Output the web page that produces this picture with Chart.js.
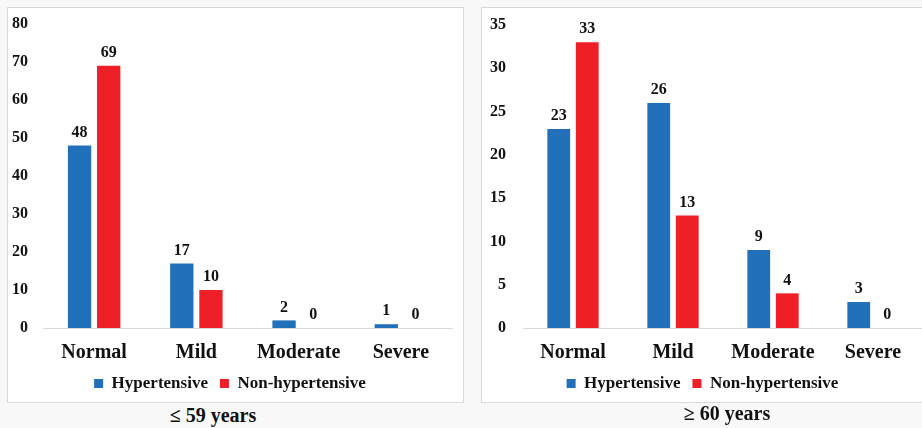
<!DOCTYPE html>
<html>
<head>
<meta charset="utf-8">
<script src="https://cdn.jsdelivr.net/npm/chart.js@4"></script>
<style>
  body { margin: 0; width: 922px; height: 428px; background: #f8f8f8; position: relative; overflow: hidden; }
  .panel { position: absolute; top: 7px; height: 396px; background: #fff; border: 1px solid #d9d9d9; box-sizing: border-box; overflow: hidden; }
  .panel canvas { position: absolute; left: 0; top: 0; }
  .caption { position: absolute; font-family: "Liberation Serif", serif; font-weight: bold; font-size: 20px; color: #111; white-space: nowrap; transform: translate(-50%, -50%); }
</style>
</head>
<body>
<div class="panel" style="left:7px; width:457px;"><canvas id="chartYoung"></canvas></div>
<div class="panel" style="left:481px; width:446px;"><canvas id="chartOld"></canvas></div>
<div class="caption" style="left:213px; top:415px;">≤ 59 years</div>
<div class="caption" style="left:727px; top:413px;">≥ 60 years</div>
<script>
// categories and series
var severityLabels = ["Normal", "Mild", "Moderate", "Severe"];
var seriesNames = ["Hypertensive", "Non-hypertensive"];

// ≤ 59 years
var youngHypertensive = [48, 17, 2, 1];
var youngNonHypertensive = [69, 10, 0, 0];
var youngTicks = [0, 10, 20, 30, 40, 50, 60, 70, 80];

// ≥ 60 years
var oldHypertensive = [23, 26, 9, 3];
var oldNonHypertensive = [33, 13, 4, 0];
var oldTicks = [0, 5, 10, 15, 20, 25, 30, 35];

var blue = "#2270b9";
var red = "#ee1f26";
var serif = "'Liberation Serif', 'Times New Roman', serif";

// draw the value on top of each bar
var valueLabels = {
    id: "valueLabels",
    afterDatasetsDraw: function(chart) {
        var ctx = chart.ctx;
        ctx.save();
        ctx.font = "bold 16px " + serif;
        ctx.fillStyle = "#111";
        ctx.textAlign = "center";
        ctx.textBaseline = "bottom";
        chart.data.datasets.forEach(function(ds, i) {
            chart.getDatasetMeta(i).data.forEach(function(bar, j) {
                ctx.fillText(ds.data[j], bar.x, bar.y - 5);
            });
        });
        ctx.restore();
    }
};

function drawPanel(id, w, h, hyper, nonHyper, ticks, axisWidth, tickPad, padRight, topGap) {
    var canvas = document.getElementById(id);
    canvas.width = w;
    canvas.height = h;
    canvas.style.width = w + "px";
    canvas.style.height = h + "px";

    return new Chart(canvas, {
        type: "bar",
        data: {
            labels: severityLabels,
            datasets: [
                { label: seriesNames[0], data: hyper, backgroundColor: blue, categoryPercentage: 0.57, barPercentage: 0.8 },
                { label: seriesNames[1], data: nonHyper, backgroundColor: red, categoryPercentage: 0.57, barPercentage: 0.8 }
            ]
        },
        options: {
            responsive: false,
            animation: false,
            layout: { padding: { top: 0, right: padRight, bottom: 0, left: 0 } },
            plugins: {
                legend: {
                    position: "bottom",
                    labels: {
                        boxWidth: 9,
                        boxHeight: 9,
                        padding: 12,
                        color: "#111",
                        font: { family: serif, size: 17, weight: "bold" }
                    }
                },
                tooltip: { enabled: false }
            },
            scales: {
                x: {
                    grid: { display: false, drawTicks: false },
                    border: { display: true, color: "#d9d9d9", width: 1 },
                    ticks: {
                        padding: 13,
                        color: "#111",
                        font: { family: serif, size: 20, weight: "bold" }
                    },
                    afterFit: function(scale) { scale.height = 35; }
                },
                y: {
                    min: ticks[0],
                    max: ticks[ticks.length - 1],
                    afterBuildTicks: function(scale) {
                        scale.ticks = ticks.map(function(v) { return { value: v }; });
                    },
                    grid: { display: false, drawTicks: false },
                    border: { display: false },
                    ticks: {
                        padding: tickPad,
                        color: "#111",
                        font: { family: serif, size: 16, weight: "bold" }
                    },
                    afterFit: function(scale) {
                        scale.width = axisWidth;
                        scale.paddingTop = topGap;
                    }
                }
            }
        },
        plugins: [valueLabels]
    });
}

drawPanel("chartYoung", 455, 394, youngHypertensive, youngNonHypertensive, youngTicks, 35, 15, 11, 16);
drawPanel("chartOld", 444, 394, oldHypertensive, oldNonHypertensive, oldTicks, 41, 17, 3, 17);
</script>
</body>
</html>
